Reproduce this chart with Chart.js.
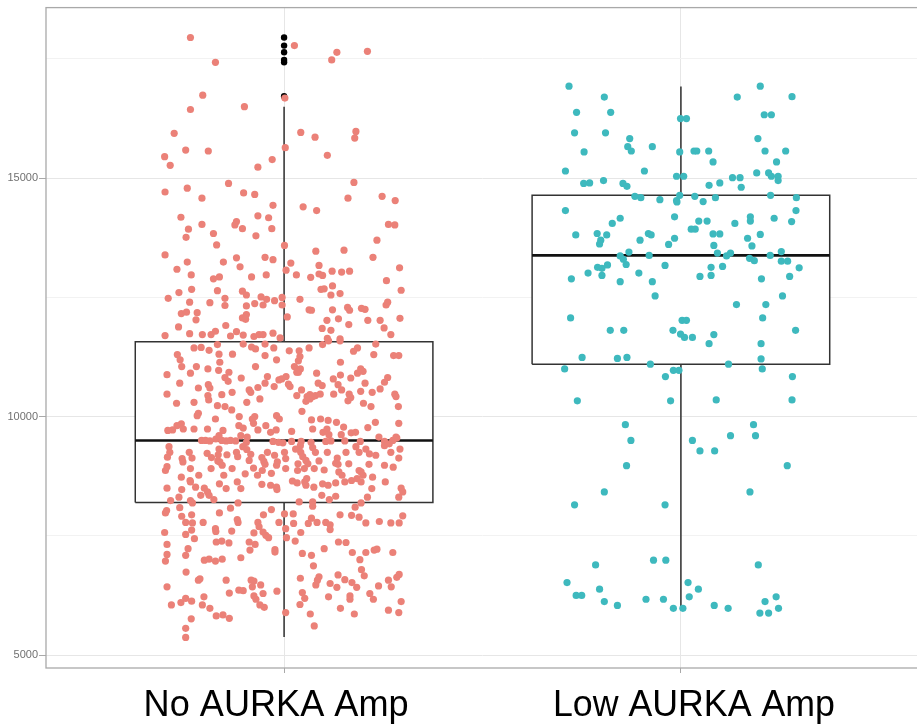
<!DOCTYPE html>
<html>
<head>
<meta charset="utf-8">
<script src="https://cdn.jsdelivr.net/npm/chart.js@4.4.1/dist/chart.umd.min.js"></script>
<style>
  html, body { margin: 0; padding: 0; background: #fff; overflow: hidden; width: 917px; height: 726px; }
  #wrap { position: absolute; left: 0; top: 0; width: 924px; height: 726px; }
</style>
</head>
<body>
<div id="wrap"><canvas id="chart" width="924" height="726"></canvas></div>
<script>
// groups on the x axis
const categories = ['No AURKA Amp', 'Low AURKA Amp'];

// box statistics per group
const boxLow    = [5380, 5980];
const boxQ1     = [8200, 11100];
const boxMedian = [9500, 13380];
const boxQ3     = [11570, 14640];
const boxHigh   = [16500, 16920];

// outliers of the first group
const noAmpOutliers = [17950, 17780, 17640, 17480, 17430, 16720];

// y axis ticks
const yTicks = [5000, 10000, 15000];
const yMinorTicks = [7500, 12500, 17500];

// jittered samples: [horizontal jitter, value]
const noAmpPoints = [
  [-0.236,17950],[0.026,17780],[0.133,17640],[0.210,17660],[0.120,17480],[-0.173,17430],[0.002,16680],[-0.205,16740],
  [-0.236,16440],[-0.100,16500],[-0.277,15940],[0.042,15960],[0.078,15860],[0.181,15980],[0.178,15840],[-0.248,15590],
  [-0.191,15570],[0.003,15640],[-0.301,15450],[-0.287,15270],[0.109,15480],[-0.030,15390],[-0.066,15230],
  [-0.300,14710],[-0.244,14790],[-0.140,14890],[-0.207,14580],[-0.102,14690],[-0.074,14660],[0.176,14910],[0.161,14580],
  [0.247,14620],[0.280,14530],[-0.028,14430],[0.048,14400],[0.082,14320],[-0.260,14180],[-0.066,14210],[-0.039,14170],
  [-0.207,14030],[-0.120,14090],[-0.124,14020],[-0.105,13940],[-0.241,13930],[-0.031,13940],[-0.178,13840],[0.263,14030],
  [0.279,14020],[-0.071,13790],[-0.247,13760],[0.234,13700],[-0.170,13600],[0.001,13590],[-0.300,13390],[0.080,13470],
  [0.151,13490],[0.224,13340],[-0.244,13240],[-0.153,13240],[-0.120,13330],[-0.048,13340],[-0.028,13290],[0.017,13220],
  [0.088,13170],[-0.270,13090],[-0.111,13140],[0.005,13070],[0.121,13050],[0.145,13030],[0.165,13050],[0.291,13120],
  [-0.234,12970],[-0.178,12890],[-0.163,12930],[-0.082,12930],[-0.045,12970],[0.031,12970],[0.067,12920],[0.088,12990],
  [0.097,12960],[0.258,12850],[-0.233,12670],[-0.168,12640],[-0.105,12630],[-0.095,12550],[-0.265,12600],[0.093,12670],
  [0.101,12680],[0.122,12740],[0.118,12550],[0.141,12580],[0.295,12650],[-0.292,12480],[-0.238,12400],[-0.187,12390],
  [-0.149,12480],[-0.149,12330],[-0.095,12320],[-0.074,12370],[-0.058,12510],[-0.044,12460],[-0.024,12430],[-0.005,12500],
  [-0.005,12340],[0.040,12460],[-0.053,12340],[0.063,12240],[0.069,12230],[0.122,12240],[0.160,12290],[0.165,12230],
  [0.195,12270],[0.204,12250],[0.257,12340],[0.261,12400],[-0.259,12160],[-0.246,12190],[-0.219,12180],[-0.105,12070],
  [-0.095,12140],[-0.097,12040],[0.008,12090],[0.108,12020],[0.137,12050],[0.211,12020],[0.242,12020],[0.292,12060],
  [-0.222,12030],[-0.266,11880],[-0.147,11910],[0.096,11850],[0.118,11810],[0.163,11930],[0.252,11860],[-0.300,11700],
  [-0.238,11740],[-0.206,11720],[-0.184,11720],[-0.173,11790],[-0.135,11690],[-0.120,11780],[-0.103,11710],[-0.076,11680],
  [-0.063,11720],[-0.053,11720],[-0.028,11750],[-0.010,11650],[0.109,11640],[0.141,11630],[0.269,11720],
  [-0.227,11440],[-0.209,11450],[-0.189,11390],[-0.168,11510],[-0.103,11520],[-0.082,11460],[-0.072,11420],[-0.048,11520],
  [-0.026,11440],[0.013,11380],[0.038,11380],[0.063,11440],[0.097,11510],[0.112,11590],[0.141,11590],[0.185,11440],
  [0.175,11370],[0.231,11520],[-0.269,11300],[-0.262,11190],[-0.164,11310],[-0.130,11310],[-0.048,11280],[-0.019,11190],
  [0.040,11260],[0.036,11170],[0.142,11140],[0.226,11300],[0.276,11280],[0.289,11280],[-0.258,11050],[-0.221,11050],
  [-0.192,11000],[-0.162,11140],[-0.165,10970],[-0.139,10930],[-0.072,11050],[0.026,11050],[0.041,11000],[0.036,10930],
  [-0.295,10880],[-0.236,10910],[-0.149,10820],[-0.108,10810],[-0.042,10840],[-0.013,10770],[0.005,10840],[0.032,10930],
  [0.082,10910],[0.124,10790],[0.142,10870],[0.185,10910],[0.199,10950],[0.193,11000],[0.168,10810],[0.261,10820],
  [-0.263,10700],[-0.216,10600],[-0.191,10670],[-0.187,10600],[-0.141,10740],[-0.088,10560],[-0.066,10610],[-0.048,10700],
  [-0.025,10630],[-0.006,10790],[0.011,10680],[0.015,10630],[0.044,10560],[0.086,10700],[0.096,10650],[0.136,10670],
  [0.204,10700],[0.222,10510],[0.145,10560],[0.164,10470],[0.193,10530],[0.253,10720],[0.242,10580],[-0.295,10470],
  [-0.192,10440],[-0.157,10460],[-0.131,10510],[-0.084,10510],[0.032,10440],[0.058,10420],[0.065,10460],[0.079,10440],
  [0.091,10470],[0.125,10470],[0.279,10470],[0.282,10420],[0.168,10400],[-0.271,10280],[-0.227,10300],[-0.190,10350],
  [-0.168,10230],[-0.149,10210],[-0.132,10140],[-0.094,10300],[-0.061,10370],[0.055,10320],[0.065,10370],[0.072,10420],
  [0.161,10330],[0.200,10280],[0.219,10210],[0.288,10210],[-0.216,10070],[-0.219,10020],[-0.173,9950],[-0.074,10000],
  [-0.019,10020],[-0.012,9950],[-0.113,10000],[0.045,10110],[0.092,9950],[0.069,9930],[0.132,9880],[0.111,9920],
  [-0.281,9720],[-0.270,9810],[-0.259,9850],[-0.254,9740],[-0.293,9710],[-0.227,9740],[-0.193,9740],[-0.154,9710],
  [-0.114,9810],[-0.103,9760],[-0.080,9950],[-0.077,9860],[-0.046,9810],[-0.066,9720],[-0.034,9670],[-0.020,9720],
  [0.019,9690],[0.072,9740],[0.098,9670],[0.108,9740],[0.113,9620],[0.144,9620],[0.150,9780],[0.169,9660],
  [0.180,9670],[0.211,9770],[0.230,9880],[0.239,9570],[0.289,9860],[0.282,9570],[-0.208,9500],[-0.198,9500],
  [-0.187,9490],[-0.172,9530],[-0.164,9600],[-0.157,9500],[-0.146,9490],[-0.135,9500],[-0.122,9490],[-0.109,9600],
  [-0.093,9570],[-0.095,9460],[-0.028,9480],[-0.014,9460],[-0.003,9450],[0.019,9480],[0.043,9480],[0.068,9460],
  [0.105,9480],[0.118,9490],[0.153,9490],[0.192,9480],[0.253,9480],[0.265,9430],[0.274,9500],[0.284,9550],
  [-0.290,9370],[-0.288,9250],[-0.294,9150],[-0.239,9250],[-0.257,9120],[-0.232,9130],[-0.194,9230],[-0.183,9140],
  [-0.164,9320],[-0.166,9200],[-0.167,9070],[-0.144,9200],[-0.120,9250],[-0.117,9160],[-0.104,9370],[-0.094,9310],
  [-0.084,9210],[-0.088,9080],[-0.056,9140],[-0.051,9060],[-0.042,9250],[-0.024,9190],[0.001,9250],[0.004,9120],
  [0.029,9320],[0.041,9390],[0.042,9250],[0.047,9160],[0.055,9080],[0.072,9350],[0.079,9250],[0.088,9070],
  [0.109,9250],[0.134,9130],[0.156,9250],[0.181,9370],[0.189,9250],[0.206,9320],[0.215,9220],[0.231,9190],
  [0.253,9390],[0.269,9250],[0.289,9130],[0.292,9320],[-0.299,8870],[-0.295,8950],[-0.236,8910],[-0.255,9050],
  [-0.184,8910],[-0.162,9050],[-0.156,8980],[-0.152,8770],[-0.131,8910],[-0.098,8800],[-0.077,8920],[-0.067,8770],
  [-0.055,8870],[-0.048,9000],[-0.032,8810],[-0.019,8980],[-0.017,9050],[0.004,8910],[0.035,9010],[0.034,8870],
  [0.051,8910],[0.060,9010],[0.076,8910],[0.101,8880],[0.130,9020],[0.136,9000],[0.138,8840],[0.163,9010],
  [0.189,8870],[0.194,8840],[0.199,8770],[0.214,9000],[0.223,8730],[0.253,8980],[0.275,8940],[-0.259,8730],
  [-0.215,8770],[-0.237,8660],[-0.295,8500],[-0.258,8470],[-0.236,8630],[-0.223,8520],[-0.201,8500],[-0.193,8420],
  [-0.163,8590],[-0.146,8490],[-0.109,8490],[-0.118,8630],[-0.056,8580],[-0.034,8560],[-0.019,8520],[-0.018,8470],
  [0.021,8650],[0.033,8610],[0.052,8630],[0.055,8560],[0.057,8700],[0.075,8520],[0.097,8590],[0.111,8560],
  [0.130,8610],[0.146,8770],[0.153,8630],[0.170,8660],[0.184,8700],[0.194,8630],[0.221,8490],[0.255,8630],
  [0.295,8500],[0.299,8420],
  [-0.286,8240],[-0.265,8310],[-0.236,8240],[-0.231,8190],[-0.210,8350],[-0.189,8350],[-0.177,8260],[-0.116,8190],
  [0.038,8210],[0.072,8210],[0.072,8120],[0.095,8350],[0.114,8260],[0.130,8330],[0.179,8100],[0.194,8190],
  [0.210,8310],[0.289,8310],[-0.299,7980],[-0.296,8030],[-0.263,8090],[-0.258,7910],[-0.248,7780],[-0.231,7770],
  [-0.233,7940],[-0.204,7780],[-0.163,7980],[-0.135,8080],[-0.116,7780],[-0.118,7840],[-0.052,7940],[-0.032,8050],
  [-0.066,7780],[-0.013,7780],[0.001,7960],[0.023,7960],[0.024,7760],[0.061,7760],[0.069,7870],[0.083,7780],
  [0.105,7780],[0.116,7730],[0.141,7940],[0.170,7930],[0.189,7890],[0.206,7770],[0.240,7800],[0.269,7770],
  [0.290,7770],[0.299,7920],[-0.301,7570],[-0.248,7530],[-0.233,7620],[-0.226,7440],[-0.173,7650],[-0.172,7590],
  [-0.132,7600],[-0.076,7560],[-0.063,7690],[-0.053,7580],[-0.046,7510],[-0.039,7460],[-0.171,7370],[-0.157,7390],
  [-0.139,7350],[-0.088,7370],[-0.073,7320],[0.004,7650],[0.006,7460],[0.028,7390],[0.042,7570],[0.116,7630],
  [0.137,7370],[0.156,7360],[-0.295,7320],[-0.242,7230],[-0.248,7090],[-0.295,7110],[-0.299,6970],[-0.201,6990],
  [-0.189,7010],[-0.173,6970],[-0.156,7010],[-0.109,7040],[-0.086,7200],[-0.023,7210],[-0.023,7160],[0.046,7130],
  [0.069,7090],[0.074,6870],[0.101,7230],[0.172,7150],[0.191,7000],[0.206,7150],[0.227,7200],[0.234,7220],
  [0.274,7150],[-0.247,6740],[-0.212,6600],[-0.216,6570],[-0.146,6570],[-0.083,6570],[-0.076,6550],[-0.059,6470],
  [-0.080,6430],[-0.295,6430],[-0.138,6300],[-0.114,6360],[-0.103,6350],[-0.053,6290],[-0.018,6340],[0.041,6610],
  [0.088,6640],[0.084,6570],[0.080,6470],[0.116,6500],[0.133,6420],[0.136,6680],[0.153,6580],[0.171,6520],
  [0.183,6420],[0.195,6790],[0.202,6660],[0.238,6450],[0.263,6570],[0.270,6430],[0.284,6630],[0.290,6690],
  [0.046,6310],[-0.284,6050],[-0.260,6100],[-0.248,6190],[-0.233,6130],[-0.206,6050],[-0.202,6220],[-0.187,5980],
  [-0.171,5820],[-0.154,5840],[-0.138,5770],[-0.076,6240],[-0.071,6170],[-0.061,6050],[-0.050,6000],[0.052,6190],
  [0.040,6060],[0.004,5890],[0.066,5860],[0.112,6220],[0.142,5980],[0.166,6240],[0.166,6170],[0.177,5860],
  [0.216,6290],[0.225,6170],[0.263,5940],[0.289,5890],[0.295,6120],[-0.234,5760],[0.076,5610],[-0.248,5560],
  [-0.248,5370]
];

const lowAmpPoints = [
  [-0.282,16930],[-0.193,16700],[0.200,16930],[0.142,16700],[0.280,16710],[-0.263,16380],[-0.177,16380],[-0.001,16250],
  [0.014,16250],[0.210,16330],[0.228,16330],[-0.268,15950],[-0.190,15950],[-0.129,15830],[-0.134,15660],[-0.125,15570],
  [-0.072,15660],[-0.244,15550],[-0.003,15550],[0.033,15570],[0.040,15570],[0.070,15570],[0.081,15340],[0.194,15830],
  [0.212,15570],[0.264,15570],[0.241,15340],[-0.291,15150],[-0.092,15150],[0.191,15110],[0.221,15110],[0.228,15040],
  [0.245,15040],[0.245,14950],[-0.011,15040],[0.007,15040],[0.130,15010],[0.149,15010],[0.152,14810],[-0.245,14890],
  [-0.230,14900],[-0.195,14950],[-0.146,14890],[-0.136,14830],[0.071,14850],[0.098,14900],[-0.116,14620],[-0.101,14590],
  [-0.053,14550],[-0.011,14530],[-0.003,14640],[-0.010,14500],[0.035,14620],[0.056,14510],[0.087,14590],[0.226,14640],
  [0.291,14590],[-0.291,14320],[0.290,14320],[-0.153,14160],[-0.173,14050],[-0.016,14190],[0.045,14100],[0.066,14100],
  [0.136,14050],[0.175,14190],[0.175,14100],[0.235,14160],[0.279,14090],[-0.265,13810],[-0.211,13840],[-0.187,13810],
  [-0.202,13700],[-0.205,13620],[-0.082,13840],[-0.075,13810],[-0.103,13700],[-0.031,13610],[-0.016,13740],[0.026,13930],
  [0.036,13930],[0.081,13830],[0.098,13830],[0.083,13590],[0.168,13740],[0.179,13580],[0.200,13820],[-0.153,13370],
  [-0.145,13300],[-0.138,13190],[-0.131,13450],[-0.080,13380],[0.092,13430],[0.115,13370],[0.125,13430],[0.173,13320],
  [0.185,13270],[0.225,13380],[0.253,13460],[0.253,13260],[0.269,13260],[-0.210,13130],[-0.199,13110],[-0.185,13180],
  [-0.234,13010],[-0.199,12960],[-0.276,12890],[-0.106,13010],[-0.153,12830],[-0.072,12830],[-0.040,13170],[0.048,12940],
  [0.076,13130],[0.076,12960],[0.105,13150],[0.203,12890],[0.274,12940],[0.298,13120],[-0.065,12530],[0.140,12350],
  [0.214,12350],[0.256,12530],[-0.278,12070],[0.206,12070],[-0.178,11810],[-0.144,11810],[-0.020,11810],[0.003,12020],
  [0.014,12020],[-0.001,11730],[0.083,11720],[0.289,11810],[0.009,11660],[0.029,11660],[0.071,11530],[0.202,11530],
  [-0.249,11240],[-0.160,11220],[-0.136,11240],[0.202,11210],[-0.293,11000],[-0.077,11100],[0.120,11100],[0.205,11000],
  [-0.019,10970],[-0.005,10970],[-0.039,10840],[0.281,10840],[-0.261,10330],[-0.026,10330],[0.089,10350],[0.280,10350],
  [-0.140,9830],[0.183,9830],[-0.126,9500],[0.029,9500],[0.125,9600],[0.188,9600],[0.048,9280],[0.085,9280],
  [-0.137,8970],[0.268,8970],[-0.193,8420],[0.174,8420],[-0.268,8150],[-0.040,8150],[-0.069,6990],[-0.038,6990],
  [-0.215,6890],[0.195,6890],[-0.287,6520],[0.018,6520],[-0.205,6380],[0.044,6380],[-0.264,6250],[-0.250,6250],
  [-0.193,6120],[-0.160,6040],[-0.088,6170],[-0.044,6170],[0.021,6220],[0.240,6220],[0.212,6120],[-0.019,5980],
  [0.005,5980],[0.084,6040],[0.119,5980],[0.199,5880],[0.221,5880],[0.246,5980]
];

const pointColors = ['#EB8178', '#3EB9BE'];
const boxHalfWidth = 0.375;
const FONT = "'Liberation Sans', Arial, sans-serif";
// the category labels sit a little off their ticks and are set tight
const labelShift = [-8, 13];
const labelWidth = [265, 282];

function toXY(points, center) {
    return points.map(p => ({ x: center + p[0], y: p[1] }));
}

function buildDatasets() {
    const sets = [];
    // jitter layer (on top)
    sets.push({ data: toXY(noAmpPoints, 1), backgroundColor: pointColors[0], order: 0 });
    sets.push({ data: toXY(lowAmpPoints, 2), backgroundColor: pointColors[1], order: 0 });

    categories.forEach((c, i) => {
        const cx = i + 1;
        const l = cx - boxHalfWidth, r = cx + boxHalfWidth;
        // median
        sets.push({
            data: [{ x: l, y: boxMedian[i] }, { x: r, y: boxMedian[i] }],
            showLine: true, borderColor: '#111', borderWidth: 2.6, pointRadius: 0, order: 1
        });
        // whiskers
        sets.push({
            data: [{ x: cx, y: boxQ3[i] }, { x: cx, y: boxHigh[i] }],
            showLine: true, borderColor: '#3a3a3a', borderWidth: 1.6, pointRadius: 0, order: 1
        });
        sets.push({
            data: [{ x: cx, y: boxQ1[i] }, { x: cx, y: boxLow[i] }],
            showLine: true, borderColor: '#3a3a3a', borderWidth: 1.6, pointRadius: 0, order: 1
        });
        // box with white fill
        sets.push({
            data: [{ x: l, y: boxQ1[i] }, { x: r, y: boxQ1[i] }, { x: r, y: boxQ3[i] }, { x: l, y: boxQ3[i] }, { x: l, y: boxQ1[i] }],
            showLine: true, borderColor: '#333', borderWidth: 1.5, pointRadius: 0,
            fill: 'shape', backgroundColor: '#fff', order: 2
        });
    });

    // outliers
    sets.push({
        data: noAmpOutliers.map(v => ({ x: 1, y: v })),
        backgroundColor: '#000', pointRadius: 3.2, order: 1
    });
    return sets;
}

// panel border like ggplot
const panelBorder = {
    id: 'panelBorder',
    afterDraw(chart) {
        const { ctx, chartArea: a } = chart;
        ctx.save();
        ctx.strokeStyle = '#a9a9a9';
        ctx.lineWidth = 1.3;
        ctx.strokeRect(a.left, a.top, a.right - a.left, a.bottom - a.top);
        ctx.restore();
    }
};

// nudge and tighten the x labels the way they appear in the picture
function tweakLabels(scale) {
    if (scale._tweaked) return;
    scale._tweaked = true;
    const draw = scale.drawLabels;
    scale.drawLabels = function (area) {
        const c = this.ctx;
        const fill = c.fillText;
        c.fillText = function (t, x, y) {
            const i = categories.indexOf(t);
            if (i < 0) return fill.call(c, t, x, y);
            fill.call(c, t, x + labelShift[i], y, labelWidth[i]);
        };
        draw.call(this, area);
        c.fillText = fill;
    };
}

const ctx = document.getElementById('chart').getContext('2d');
new Chart(ctx, {
    type: 'scatter',
    data: { datasets: buildDatasets() },
    options: {
        responsive: false,
        animation: false,
        events: [],
        layout: { padding: { top: 6, right: 5, left: 0, bottom: 0 } },
        elements: { point: { radius: 3.6, borderWidth: 0, hoverRadius: 3.6 } },
        plugins: { legend: { display: false }, tooltip: { enabled: false } },
        scales: {
            x: {
                type: 'linear',
                min: 0.4,
                max: 2.6,
                afterBuildTicks(scale) { scale.ticks = categories.map((c, i) => ({ value: i + 1 })); },
                afterFit(scale) { scale.height = 58; tweakLabels(scale); },
                border: { display: false },
                grid: { color: '#e6e6e6', lineWidth: 1, tickColor: '#a9a9a9', tickLength: 5 },
                ticks: {
                    padding: 11,
                    color: '#000',
                    maxRotation: 0,
                    font: { family: FONT, size: 37 },
                    callback: v => categories[v - 1]
                }
            },
            y: {
                min: 4728,
                max: 18577,
                afterBuildTicks(scale) {
                    scale.ticks = yTicks.concat(yMinorTicks).sort((a, b) => a - b).map(v => ({ value: v }));
                },
                afterFit(scale) { scale.width = 46; },
                border: { display: false },
                grid: {
                    color: c => yMinorTicks.includes(c.tick.value) ? '#f2f2f2' : '#e6e6e6',
                    tickColor: c => yMinorTicks.includes(c.tick.value) ? 'rgba(0,0,0,0)' : '#a9a9a9',
                    tickLength: 7
                },
                ticks: {
                    padding: 1,
                    color: '#707070',
                    font: { family: FONT, size: 11 },
                    callback: v => yTicks.includes(v) ? String(v) : ''
                }
            }
        }
    },
    plugins: [panelBorder]
});
</script>
</body>
</html>
